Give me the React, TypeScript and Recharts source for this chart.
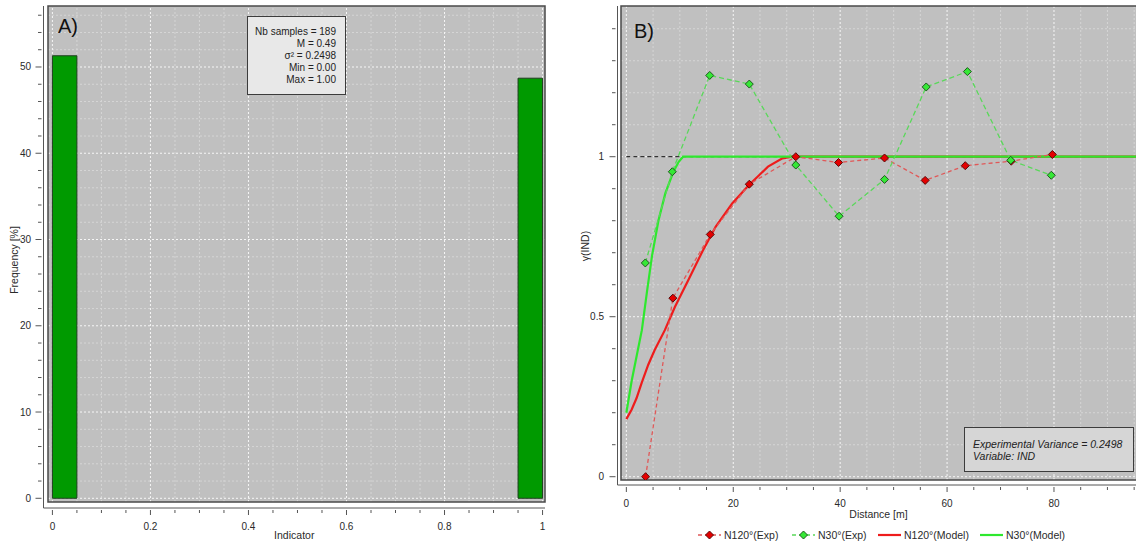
import React from 'react';
import { ComposedChart, Line, XAxis, YAxis, ReferenceArea, ReferenceLine, Legend } from 'recharts';

const FONT = '"Liberation Sans", Arial, Helvetica, sans-serif';
const TEXT = '#2a2a2a';
const AXIS = '#555555';
const PLOT_BG = '#c0c0c0';

// ---------------- Panel A : histogram of the indicator ----------------
const histBinStart = [0, 0.95];
const histBinEnd = [0.05, 1.0];
const histFrequency = [51.3, 48.7];
const histStatsLines = ['Nb samples = 189', 'M = 0.49', 'σ² = 0.2498', 'Min = 0.00', 'Max = 1.00'];
const histXMajorTicks = [0, 0.2, 0.4, 0.6, 0.8, 1];
const histXMinorTicks = [0, 0.05, 0.1, 0.15, 0.2, 0.25, 0.3, 0.35, 0.4, 0.45, 0.5, 0.55, 0.6, 0.65, 0.7, 0.75, 0.8, 0.85, 0.9, 0.95, 1];
const histYMajorTicks = [0, 10, 20, 30, 40, 50];
const histYMinorTicks = [0, 2, 4, 6, 8, 10, 12, 14, 16, 18, 20, 22, 24, 26, 28, 30, 32, 34, 36, 38, 40, 42, 44, 46, 48, 50, 52, 54, 56];
const histXDomain = [-0.009, 1.005];
const histYDomain = [-0.43, 57.07];

// ---------------- Panel B : variograms ----------------
const n120ExpLag = [3.6, 8.7, 15.7, 23.0, 31.7, 39.7, 48.3, 55.9, 63.4, 72.0, 79.7];
const n120ExpGamma = [0.0, 0.558, 0.757, 0.914, 1.0, 0.982, 0.996, 0.926, 0.972, 0.986, 1.007];
const n30ExpLag = [3.55, 8.6, 15.6, 23.0, 31.7, 39.8, 48.3, 56.1, 63.8, 71.9, 79.5];
const n30ExpGamma = [0.668, 0.953, 1.254, 1.227, 0.974, 0.814, 0.929, 1.218, 1.266, 0.989, 0.942];
const n120ModelLag = [0, 1, 1.9, 2.9, 4.1, 5.3, 7.2, 9.1, 11.6, 14.2, 16.7, 19.8, 22.9, 26.5, 29.2, 31, 96];
const n120ModelGamma = [0.18, 0.21, 0.245, 0.295, 0.35, 0.396, 0.458, 0.531, 0.615, 0.703, 0.781, 0.854, 0.911, 0.969, 0.995, 1.0, 1.0];
const n30ModelLag = [0, 1, 1.9, 2.9, 3.9, 4.8, 6.0, 7.3, 8.8, 9.8, 10.6, 96];
const n30ModelGamma = [0.2, 0.3, 0.375, 0.458, 0.583, 0.69, 0.8, 0.886, 0.953, 0.984, 1.0, 1.0];
const sillValue = 1;
const varioXMajorTicks = [0, 20, 40, 60, 80];
const varioXMinorTicks = [0, 5, 10, 15, 20, 25, 30, 35, 40, 45, 50, 55, 60, 65, 70, 75, 80, 85, 90, 95];
const varioYMajorTicks = [0, 0.5, 1];
const varioYMinorTicks = [0, 0.1, 0.2, 0.3, 0.4, 0.5, 0.6, 0.7, 0.8, 0.9, 1, 1.1, 1.2, 1.3, 1.4];
const varioXDomain = [-1, 96];
const varioYDomain = [-0.0103, 1.471];
const legendLabels = ['N120°(Exp)', 'N30°(Exp)', 'N120°(Model)', 'N30°(Model)'];
const varianceLines = ['Experimental Variance = 0.2498', 'Variable: IND'];

const RED_PT = '#e40000';
const RED_PT_EDGE = '#5a0a0a';
const GREEN_PT = '#36e836';
const GREEN_PT_EDGE = '#1f5a1f';
const RED_DASH = '#e05858';
const GREEN_DASH = '#5ad85a';
const RED_MODEL = '#ee1c1c';
const GREEN_MODEL = '#2ee82e';

const zip = (xs: number[], ys: number[]) => xs.map((x, i) => ({ x, y: ys[i] }));
const histRows = histFrequency.map((f, i) => ({ x: (histBinStart[i] + histBinEnd[i]) / 2, freq: f }));
const n120ExpRows = zip(n120ExpLag, n120ExpGamma);
const n30ExpRows = zip(n30ExpLag, n30ExpGamma);
const n120ModelRows = zip(n120ModelLag, n120ModelGamma);
const n30ModelRows = zip(n30ModelLag, n30ModelGamma);

const isIn = (arr: number[], v: number) => arr.some((m) => Math.abs(m - v) < 1e-9);
const fmt = (v: number) => String(+v.toFixed(4));

function makeXTick(majors: number[], majorLen: number, minorLen: number, labelGap: number) {
  return (props: any) => {
    const { x, y, payload, index } = props;
    const v = payload.value;
    const major = isIn(majors, v);
    return (
      <g key={`xt-${index}`}>
        <line x1={x} x2={x} y1={y} y2={y + (major ? majorLen : minorLen)} stroke={AXIS} strokeWidth={1} />
        {major ? (
          <text x={x} y={y + labelGap} textAnchor="middle" dominantBaseline="central" fontSize={10} fill={TEXT}>
            {fmt(v)}
          </text>
        ) : null}
      </g>
    );
  };
}

function makeYTick(majors: number[], majorLen: number, minorLen: number, labelGap: number) {
  return (props: any) => {
    const { x, y, payload, index } = props;
    const v = payload.value;
    const major = isIn(majors, v);
    return (
      <g key={`yt-${index}`}>
        <line x1={x} x2={x - (major ? majorLen : minorLen)} y1={y} y2={y} stroke={AXIS} strokeWidth={1} />
        {major ? (
          <text x={x - labelGap} y={y} textAnchor="end" dominantBaseline="central" fontSize={10} fill={TEXT}>
            {fmt(v)}
          </text>
        ) : null}
      </g>
    );
  };
}

const diamondDot = (fill: string, stroke: string) => (props: any) => {
  const { cx, cy, index } = props;
  if (cx == null || cy == null) return <g key={`nd-${index}`} />;
  const r = 4;
  return (
    <polygon
      key={`dm-${fill}-${index}`}
      points={`${cx},${cy - r} ${cx + r},${cy} ${cx},${cy + r} ${cx - r},${cy}`}
      fill={fill}
      stroke={stroke}
      strokeWidth={1}
    />
  );
};

function gridLines(
  xTicks: number[],
  xMajors: number[],
  yTicks: number[],
  yMajors: number[],
  xDom: number[],
  yDom: number[],
  prefix: string
) {
  const out: any[] = [];
  xTicks.forEach((v, i) => {
    const major = isIn(xMajors, v);
    out.push(
      <ReferenceLine
        key={`${prefix}gx${i}`}
        segment={[{ x: v, y: yDom[0] }, { x: v, y: yDom[1] }]}
        stroke={major ? '#f6f6f6' : '#d5d5d5'}
        strokeDasharray="2 2"
        strokeWidth={1}
        ifOverflow="visible"
        zIndex={major ? -240 : -250}
      />
    );
  });
  yTicks.forEach((v, i) => {
    const major = isIn(yMajors, v);
    out.push(
      <ReferenceLine
        key={`${prefix}gy${i}`}
        segment={[{ x: xDom[0], y: v }, { x: xDom[1], y: v }]}
        stroke={major ? '#f6f6f6' : '#d5d5d5'}
        strokeDasharray="2 2"
        strokeWidth={1}
        ifOverflow="visible"
        zIndex={major ? -240 : -250}
      />
    );
  });
  return out;
}

const legendItemLeft = [0, 94, 180, 282];
const legendIcon = (i: number) => {
  if (i === 0 || i === 1) {
    const c = i === 0 ? RED_DASH : GREEN_DASH;
    const f = i === 0 ? RED_PT : GREEN_PT;
    const e = i === 0 ? RED_PT_EDGE : GREEN_PT_EDGE;
    return (
      <svg width={23} height={16} style={{ display: 'block' }}>
        <line x1={0} x2={23} y1={8} y2={8} stroke={c} strokeWidth={1.3} strokeDasharray="4 3" />
        <polygon points="11.5,4 15.5,8 11.5,12 7.5,8" fill={f} stroke={e} strokeWidth={1} />
      </svg>
    );
  }
  const c = i === 2 ? RED_MODEL : GREEN_MODEL;
  return (
    <svg width={23} height={16} style={{ display: 'block' }}>
      <line x1={0} x2={23} y1={8} y2={8} stroke={c} strokeWidth={2.2} />
    </svg>
  );
};

const renderLegend = () => (
  <div style={{ position: 'relative', width: 380, height: 16, fontSize: 10.5, color: TEXT, fontFamily: FONT }}>
    {legendLabels.map((label, i) => (
      <div
        key={label}
        style={{ position: 'absolute', left: legendItemLeft[i], top: 0, height: 16, display: 'flex', alignItems: 'center', whiteSpace: 'nowrap' }}
      >
        {legendIcon(i)}
        <span style={{ marginLeft: 3, lineHeight: '16px' }}>{label}</span>
      </div>
    ))}
  </div>
);

function HistogramPanel() {
  return (
    <ComposedChart width={560} height={547} data={histRows} margin={{ top: 6, right: 15, left: 13.5, bottom: 7 }}>
      <XAxis
        type="number"
        dataKey="x"
        domain={histXDomain}
        allowDataOverflow
        ticks={histXMinorTicks}
        interval={0}
        tickSize={0}
        tickLine={false}
        tick={makeXTick(histXMajorTicks, 5, 3, 16)}
        axisLine={{ stroke: AXIS, strokeWidth: 1 }}
        padding={{ left: 4.5, right: 0 }}
        height={32}
        label={{ value: 'Indicator', position: 'insideBottom', offset: 1, fontSize: 10.5, fill: TEXT }}
      />
      <YAxis
        type="number"
        domain={histYDomain}
        allowDataOverflow
        ticks={histYMinorTicks}
        interval={0}
        tickSize={0}
        tickLine={false}
        tick={makeYTick(histYMajorTicks, 6, 3.5, 10.5)}
        axisLine={{ stroke: AXIS, strokeWidth: 1 }}
        padding={{ top: 0, bottom: 6 }}
        width={30}
      />
      <ReferenceArea
        x1={histXDomain[0]}
        x2={histXDomain[1]}
        y1={histYDomain[0]}
        y2={histYDomain[1]}
        fill={PLOT_BG}
        fillOpacity={1}
        stroke="none"
        ifOverflow="visible"
        zIndex={-300}
      />
      {gridLines(histXMinorTicks, histXMajorTicks, histYMinorTicks, histYMajorTicks, histXDomain, histYDomain, 'a')}
      {histFrequency.map((f, i) => (
        <ReferenceArea
          key={`bin${i}`}
          x1={histBinStart[i]}
          x2={histBinEnd[i]}
          y1={0}
          y2={f}
          fill="#009a00"
          fillOpacity={1}
          stroke="#1f3d1f"
          strokeWidth={1}
          ifOverflow="visible"
          zIndex={100}
        />
      ))}
      <Line dataKey="freq" stroke="none" dot={false} activeDot={false} isAnimationActive={false} legendType="none" />
      <ReferenceArea
        x1={histXDomain[0]}
        x2={histXDomain[1]}
        y1={histYDomain[0]}
        y2={histYDomain[1]}
        fill="none"
        fillOpacity={0}
        stroke="#4a4a4a"
        strokeWidth={1.5}
        ifOverflow="visible"
        zIndex={450}
      />
    </ComposedChart>
  );
}

function VariogramPanel() {
  return (
    <ComposedChart width={575} height={547} margin={{ top: 6, right: 10.5, left: 12.5, bottom: 27 }}>
      <XAxis
        type="number"
        dataKey="x"
        domain={varioXDomain}
        allowDataOverflow
        ticks={varioXMinorTicks}
        interval={0}
        tickSize={0}
        tickLine={false}
        tick={makeXTick(varioXMajorTicks, 5, 3, 16.5)}
        axisLine={{ stroke: AXIS, strokeWidth: 1 }}
        padding={{ left: 3.5, right: 0 }}
        height={35}
        label={{ value: 'Distance [m]', position: 'insideBottom', offset: 2, fontSize: 10.5, fill: TEXT }}
      />
      <YAxis
        type="number"
        domain={varioYDomain}
        allowDataOverflow
        ticks={varioYMinorTicks}
        interval={0}
        tickSize={0}
        tickLine={false}
        tick={makeYTick(varioYMajorTicks, 6, 3.5, 11.5)}
        axisLine={{ stroke: AXIS, strokeWidth: 1 }}
        padding={{ top: 0, bottom: 5 }}
        width={30}
      />
      <ReferenceArea
        x1={varioXDomain[0]}
        x2={varioXDomain[1]}
        y1={varioYDomain[0]}
        y2={varioYDomain[1]}
        fill={PLOT_BG}
        fillOpacity={1}
        stroke="none"
        ifOverflow="visible"
        zIndex={-300}
      />
      {gridLines(varioXMinorTicks, varioXMajorTicks, varioYMinorTicks, varioYMajorTicks, varioXDomain, varioYDomain, 'b')}
      <ReferenceLine
        segment={[{ x: 0, y: sillValue }, { x: varioXDomain[1], y: sillValue }]}
        stroke="#333333"
        strokeDasharray="4 3"
        strokeWidth={1.2}
        ifOverflow="visible"
        zIndex={-200}
      />
      <Line data={n120ModelRows} dataKey="y" type="linear" stroke={RED_MODEL} strokeWidth={2.2} dot={false} activeDot={false} isAnimationActive={false} name={legendLabels[2]} />
      <Line data={n30ModelRows} dataKey="y" type="linear" stroke={GREEN_MODEL} strokeWidth={2.2} dot={false} activeDot={false} isAnimationActive={false} name={legendLabels[3]} />
      <Line
        data={n120ExpRows}
        dataKey="y"
        type="linear"
        stroke={RED_DASH}
        strokeWidth={1.3}
        strokeDasharray="4 3"
        dot={diamondDot(RED_PT, RED_PT_EDGE)}
        activeDot={false}
        isAnimationActive={false}
        name={legendLabels[0]}
      />
      <Line
        data={n30ExpRows}
        dataKey="y"
        type="linear"
        stroke={GREEN_DASH}
        strokeWidth={1.3}
        strokeDasharray="5 3"
        dot={diamondDot(GREEN_PT, GREEN_PT_EDGE)}
        activeDot={false}
        isAnimationActive={false}
        name={legendLabels[1]}
      />
      <ReferenceArea
        x1={varioXDomain[0]}
        x2={varioXDomain[1]}
        y1={varioYDomain[0]}
        y2={varioYDomain[1]}
        fill="none"
        fillOpacity={0}
        stroke="#4a4a4a"
        strokeWidth={1.5}
        ifOverflow="visible"
        zIndex={450}
      />
      <Legend
        layout="horizontal"
        verticalAlign="middle"
        align="center"
        content={renderLegend}
        wrapperStyle={{ left: 123, top: 527, width: 380, height: 16 }}
      />
    </ComposedChart>
  );
}

export default function App() {
  return (
    <div
      style={{
        position: 'absolute',
        left: 0,
        top: 0,
        width: 1136,
        height: 547,
        overflow: 'hidden',
        background: '#ffffff',
        fontFamily: FONT,
        color: TEXT,
      }}
    >
      <div style={{ position: 'absolute', left: 0, top: 0 }}>
        <HistogramPanel />
      </div>
      <div style={{ position: 'absolute', left: 575, top: 0 }}>
        <VariogramPanel />
      </div>

      {/* panel letters */}
      <div style={{ position: 'absolute', left: 58, top: 16, fontSize: 20, lineHeight: '20px', color: '#111' }}>A)</div>
      <div style={{ position: 'absolute', left: 634, top: 21, fontSize: 20, lineHeight: '20px', color: '#111' }}>B)</div>

      {/* rotated axis titles */}
      <div
        style={{
          position: 'absolute',
          left: 14,
          top: 260,
          transform: 'translate(-50%, -50%) rotate(-90deg)',
          whiteSpace: 'nowrap',
          fontSize: 10.5,
          lineHeight: '12px',
        }}
      >
        Frequency [%]
      </div>
      <div
        style={{
          position: 'absolute',
          left: 585,
          top: 246,
          transform: 'translate(-50%, -50%) rotate(-90deg)',
          whiteSpace: 'nowrap',
          fontSize: 10.5,
          lineHeight: '12px',
        }}
      >
        γ(IND)
      </div>

      {/* statistics box, panel A */}
      <div
        style={{
          position: 'absolute',
          left: 247,
          top: 16,
          width: 99,
          height: 79,
          boxSizing: 'border-box',
          border: '1px solid #3c3c3c',
          background: '#e8e8e8',
          padding: '9px 9px 0 0',
          textAlign: 'right',
          fontSize: 10,
          lineHeight: '12px',
          color: '#222',
        }}
      >
        {histStatsLines.map((l) => (
          <div key={l}>{l}</div>
        ))}
      </div>

      {/* variance box, panel B */}
      <div
        style={{
          position: 'absolute',
          left: 964,
          top: 427,
          width: 170,
          height: 45,
          boxSizing: 'border-box',
          border: '1px solid #3c3c3c',
          background: '#d6d6d6',
          padding: '10px 0 0 8px',
          fontStyle: 'italic',
          fontSize: 10.5,
          lineHeight: '12px',
          color: '#222',
          whiteSpace: 'nowrap',
        }}
      >
        {varianceLines.map((l) => (
          <div key={l}>{l}</div>
        ))}
      </div>
    </div>
  );
}
